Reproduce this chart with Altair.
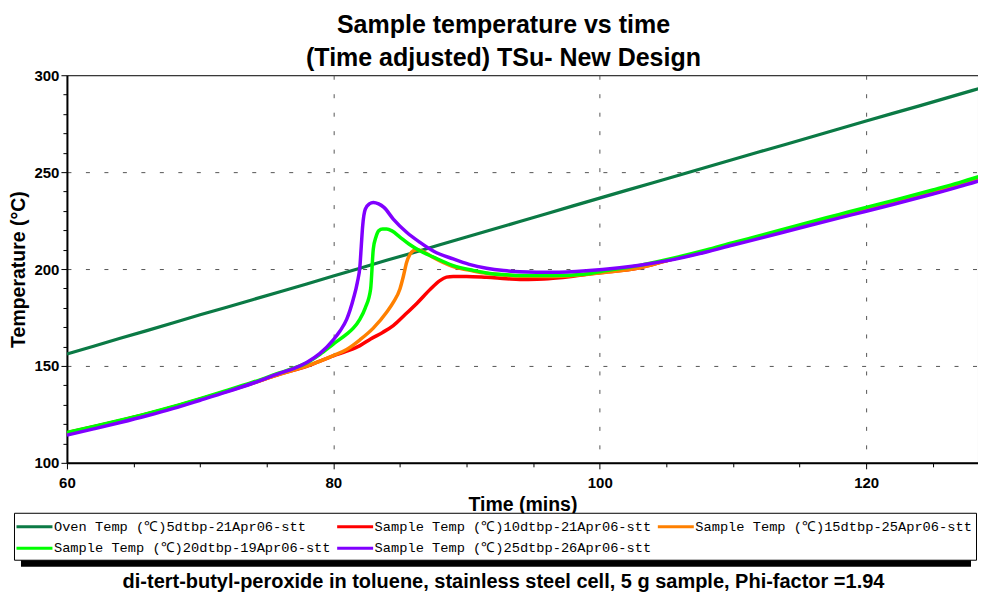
import altair as alt
import pandas as pd

TITLE = ["Sample temperature vs time", "(Time adjusted) TSu- New Design"]
CAPTION = "di-tert-butyl-peroxide in toluene, stainless steel cell, 5 g sample, Phi-factor =1.94"
X_TITLE = "Time (mins)"
Y_TITLE = "Temperature (°C)"

SERIES = [
    "Oven Temp (℃)5dtbp-21Apr06-stt",
    "Sample Temp (℃)10dtbp-21Apr06-stt",
    "Sample Temp (℃)15dtbp-25Apr06-stt",
    "Sample Temp (℃)20dtbp-19Apr06-stt",
    "Sample Temp (℃)25dtbp-26Apr06-stt",
]
COLORS = ["#0b7a45", "#ff0000", "#ff8000", "#00ff00", "#8000ff"]

# Oven temperature (series 0)
oven_t = [60, 62, 64, 66, 68, 70, 72, 74, 76, 78, 80, 82, 84, 86, 88, 90, 92, 94, 96, 98,
          100, 102, 104, 106, 108, 110, 112, 114, 116, 118, 120, 122, 124, 126, 128, 129]
oven_T = [156.2, 160.2, 164.3, 168.2, 172.3, 176.4, 180.3, 184.3, 188.3, 192.3, 196.4, 200.4,
          204.5, 208.4, 212.5, 216.5, 220.5, 224.5, 228.5, 232.6, 236.6, 240.6, 244.5, 248.5,
          252.5, 256.5, 260.5, 264.4, 268.4, 272.4, 276.4, 280.3, 284.2, 288.2, 292.2, 294.0]

# Sample 10 (red)
s10_t = [60, 62, 64, 66, 68, 70, 72, 74, 76, 78, 80, 81, 82, 82.8, 83.7, 84.5, 85.3, 86.3, 87.3,
         88.0, 88.5, 89, 90, 91.5, 93, 94, 95.3, 96.5, 98, 99, 100, 103, 105, 108, 110, 112, 115,
         118, 120, 122, 125, 127, 129]
s10_T = [115.5, 118.6, 121.8, 125.2, 128.9, 132.9, 137.0, 141.3, 145.8, 149.8, 155.2, 157.6, 160.5,
         163.9, 167.3, 170.8, 175.9, 182.5, 189.7, 194.0, 195.8, 196.2, 196.2, 195.7, 195.0, 194.6,
         194.7, 195.2, 196.3, 197.3, 198.1, 200.7, 204.3, 209.2, 213.0, 216.6, 222.2, 227.6, 231.2,
         234.6, 240.0, 243.9, 248.0]

# Sample 15 (orange)
s15_t = [60, 62, 64, 66, 68, 70, 72, 74, 76, 78, 80, 81, 82, 83, 84, 84.5, 85, 85.25, 85.5, 85.75,
         86.0, 86.3, 86.8, 87.5, 89, 90.5, 91.5, 93, 94, 96.5, 99, 100, 103, 105, 108, 110, 112,
         115, 118, 120, 122, 125, 127, 129]
s15_T = [115.4, 118.5, 121.7, 125.1, 128.8, 132.8, 136.9, 141.2, 145.8, 149.9, 155.3, 158.5, 163.5,
         169.5, 177.7, 182.8, 189.7, 196.0, 203.4, 207.5, 209.4, 210.0, 208.8, 206.0, 201.3, 199.0,
         197.8, 196.8, 196.3, 196.2, 197.2, 198.0, 200.7, 204.3, 209.2, 213.0, 216.6, 222.2, 227.6,
         231.2, 234.6, 240.0, 243.9, 248.0]

# Sample 20 (green)
s20_t = [60, 62, 64, 66, 68, 70, 72, 74, 76, 77, 78, 79, 80, 81, 81.5, 82, 82.4, 82.8, 83.0, 83.2,
         83.4, 83.7, 84.0, 84.4, 85.0, 85.7, 86.5, 87.5, 89, 90.5, 91.5, 93, 94, 96.5, 99, 100, 103,
         105, 108, 110, 112, 115, 118, 120, 122, 125, 127, 129]
s20_T = [115.7, 118.8, 122.0, 125.4, 129.1, 133.1, 137.3, 141.7, 146.5, 148.8, 151.6, 156.0, 161.3,
         166.4, 169.5, 174.2, 180.0, 189.7, 210.3, 216.5, 219.7, 220.6, 220.6, 219.7, 216.5, 212.8,
         209.4, 206.2, 201.8, 199.3, 198.0, 197.0, 196.6, 196.6, 197.4, 198.6, 201.9, 204.8, 209.8,
         213.6, 217.2, 222.8, 228.2, 231.8, 235.3, 240.8, 244.6, 248.8]

# Sample 25 (purple)
s25_t = [60, 62, 64, 66, 68, 70, 72, 74, 76, 77, 78, 79, 80, 80.5, 81, 81.5, 81.8, 82.0, 82.1,
         82.2, 82.4, 82.7, 83.0, 83.4, 83.8, 84.5, 85.5, 86.5, 87.5, 89, 90.2, 91.5, 92.8, 94, 96.5,
         99, 101.5, 103, 105, 108, 110, 112, 115, 118, 120, 122, 125, 127, 129]
s25_T = [114.3, 117.5, 120.8, 124.3, 128.1, 132.3, 136.6, 141.2, 146.3, 148.6, 151.8, 156.5, 163.5,
         168.0, 174.0, 184.5, 193.0, 201.7, 212.0, 222.0, 230.9, 233.6, 234.3, 233.6, 231.8, 225.8,
         219.0, 213.8, 209.3, 205.2, 202.4, 200.4, 199.2, 198.6, 198.3, 199.1, 200.7, 202.0, 204.2,
         208.8, 212.4, 215.8, 221.2, 226.4, 229.8, 233.3, 238.7, 242.5, 246.6]

X_DOMAIN = [60, 128.4]
Y_DOMAIN = [100, 300]
X_TICKS = [60, 65, 70, 75, 80, 85, 90, 95, 100, 105, 110, 115, 120, 125]
Y_TICKS = [100, 110, 120, 130, 140, 150, 160, 170, 180, 190, 200, 210, 220, 230, 240, 250,
           260, 270, 280, 290, 300]

rows = []
for name, ts, vs in zip(SERIES, [oven_t, s10_t, s15_t, s20_t, s25_t],
                        [oven_T, s10_T, s15_T, s20_T, s25_T]):
    for t, v in zip(ts, vs):
        rows.append({"series": name, "time": t, "temp": v})
df = pd.DataFrame(rows)

FONT = "Liberation Sans"
W, H = 912, 388

x_enc = alt.X(
    "time:Q",
    scale=alt.Scale(domain=X_DOMAIN, nice=False, zero=False),
    axis=alt.Axis(
        title=X_TITLE, values=X_TICKS, labelFlush=False,
        labelExpr="datum.value % 20 === 0 ? datum.label : ''",
        tickSize={"condition": {"test": "datum.value % 20 === 0", "value": 6}, "value": 4},
        gridOpacity={"condition": {"test": "datum.value % 20 === 0 && datum.value > 60", "value": 1}, "value": 0},
        labelFontSize=15, titleFontSize=19.5, titlePadding=5, labelPadding=7,
    ),
)
y_enc = alt.Y(
    "temp:Q",
    scale=alt.Scale(domain=Y_DOMAIN, nice=False, zero=False),
    axis=alt.Axis(
        title=Y_TITLE, values=Y_TICKS, labelFlush=False,
        labelExpr="datum.value % 50 === 0 ? datum.label : ''",
        tickSize={"condition": {"test": "datum.value % 50 === 0", "value": 6}, "value": 4},
        gridOpacity={"condition": {"test": "datum.value % 50 === 0 && datum.value > 100 && datum.value < 300", "value": 1}, "value": 0},
        labelFontSize=15, titleFontSize=19.5, titlePadding=5.5, labelPadding=2,
    ),
)
color_enc = alt.Color(
    "series:N",
    scale=alt.Scale(domain=SERIES, range=COLORS),
    legend=alt.Legend(
        orient="none", legendX=-53, legendY=438, direction="horizontal", columns=3,
        title=None, symbolType="M-2.25,0L2.25,0", symbolSize=256, symbolStrokeWidth=3,
        symbolOffset=7, labelOffset=10,
        labelFont="Liberation Mono", labelFontSize=13.7, labelFontWeight="normal",
        labelLimit=400, padding=4, columnPadding=0, rowPadding=5,
        strokeColor="black", fillColor="white", gridAlign="each",
    ),
)

base = alt.Chart(df).encode(x=x_enc, y=y_enc, color=color_enc)
oven = base.mark_line(strokeWidth=3.2, clip=True).transform_filter(alt.datum.series == SERIES[0])
samples = base.mark_line(strokeWidth=3.5, clip=True, interpolate="monotone").transform_filter(
    alt.datum.series != SERIES[0])

# drop shadow under the legend box (decoration only)
shadow = alt.Chart(pd.DataFrame({"k": [0]})).mark_rect(color="black").encode(
    x=alt.value(-46), x2=alt.value(905), y=alt.value(444), y2=alt.value(492))

caption = alt.Chart(pd.DataFrame({"caption": [CAPTION]})).mark_text(
    font=FONT, fontSize=20, fontWeight="bold", color="black", align="center",
    baseline="alphabetic",
).encode(text="caption:N", x=alt.value(437), y=alt.value(513))

chart = alt.layer(shadow, oven, samples, caption).properties(
    width=W, height=H,
    title=alt.TitleParams(TITLE, anchor="middle", font=FONT, fontSize=25, fontWeight="bold",
                          color="black", lineHeight=33, offset=-3, dx=-19),
    padding={"left": 0, "top": 5, "right": 0, "bottom": 0},
).configure_view(
    stroke="black", strokeWidth=1
).configure_axis(
    labelFont=FONT, titleFont=FONT, labelFontWeight="bold", titleFontWeight="bold",
    labelColor="black", titleColor="black", domainColor="black", domainWidth=2,
    tickColor="black", tickWidth=1, gridColor="#555555", gridDash=[4, 14.5], gridWidth=1,
)

chart.save("out.html", embed_options={"renderer": "svg", "actions": False})
